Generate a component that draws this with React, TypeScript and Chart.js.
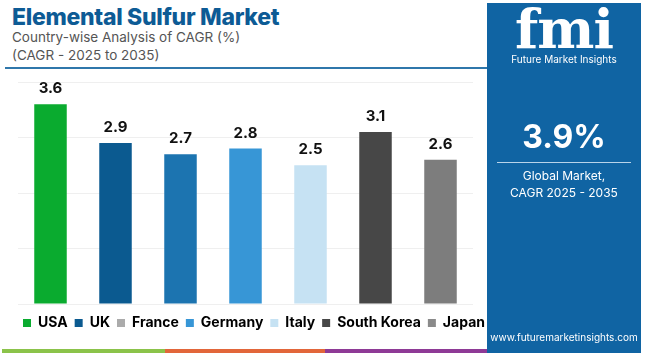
import React, { useEffect, useRef } from "react";
import { Chart, registerables } from "chart.js";

Chart.register(...registerables);

const categories = ["USA", "UK", "France", "Germany", "Italy", "South Korea", "Japan"];
const values = [3.6, 2.9, 2.7, 2.8, 2.5, 3.1, 2.6];
const barColors = ["#0aab2f", "#0b5a90", "#1c74b0", "#3796d6", "#c6e2f3", "#474747", "#7d7d7d"];
const legendColors = ["#0aab2f", "#0b5a90", "#ababab", "#3796d6", "#c6e2f3", "#474747", "#8a8a8a"];
const yTicks = [0, 1, 2, 3, 4];

const FONT = "Inter, 'Open Sans', sans-serif";

const valueLabels = {
  id: "valueLabels",
  afterDatasetsDraw(chart: any) {
    const ctx = chart.ctx;
    const meta = chart.getDatasetMeta(0);
    ctx.save();
    ctx.font = `700 15px ${FONT}`;
    ctx.fillStyle = "#111";
    ctx.textAlign = "center";
    ctx.textBaseline = "bottom";
    meta.data.forEach((bar: any, i: number) => {
      ctx.fillText(values[i].toFixed(1), bar.x, bar.y - 8);
    });
    ctx.restore();
  },
};

export default function App() {
  const ref = useRef<HTMLCanvasElement>(null);
  useEffect(() => {
    if (!ref.current) return;
    const chart = new Chart(ref.current, {
      type: "bar",
      data: {
        labels: categories,
        datasets: [
          {
            data: values,
            backgroundColor: barColors,
            barPercentage: 0.5,
            categoryPercentage: 1,
          },
        ],
      },
      options: {
        animation: false,
        responsive: false,
        maintainAspectRatio: false,
        layout: { padding: { left: 0, right: 0, top: 12, bottom: 0 } },
        scales: {
          x: {
            display: true,
            ticks: { display: false },
            grid: { display: false },
            border: { display: false },
            afterFit: (s: any) => {
              s.height = 5;
            },
          },
          y: {
            min: yTicks[0],
            max: yTicks[yTicks.length - 1],
            ticks: { display: false, stepSize: 1 },
            border: { display: false },
            grid: { color: "#efefef", drawTicks: false },
            afterFit: (s: any) => {
              s.width = 18;
            },
          },
          yRight: {
            position: "right",
            display: true,
            ticks: { display: false },
            grid: { display: false },
            border: { display: false },
            afterFit: (s: any) => {
              s.width = 35;
            },
          },
        },
        plugins: {
          tooltip: { enabled: false },
          legend: {
            display: true,
            position: "bottom",
            labels: {
              boxWidth: 8,
              boxHeight: 8,
              padding: 7,
              color: "#111",
              font: { family: FONT, size: 14, weight: "bold" },
              generateLabels: () =>
                categories.map((c, i) => ({
                  text: c,
                  fillStyle: legendColors[i],
                  strokeStyle: legendColors[i],
                  lineWidth: 0,
                  hidden: false,
                  index: i,
                  datasetIndex: 0,
                })),
            },
          },
        },
      },
      plugins: [valueLabels],
    });
    return () => chart.destroy();
  }, []);

  return (
    <div
      style={{
        position: "fixed",
        left: 0,
        top: 0,
        width: 650,
        height: 353,
        background: "#fff",
        overflow: "hidden",
        fontFamily: FONT,
      }}
    >
      <div style={{ position: "absolute", left: 12, top: 3, fontSize: 23, fontWeight: 800, color: "#0d5b95", letterSpacing: -0.3 }}>
        Elemental Sulfur Market
      </div>
      <div style={{ position: "absolute", left: 12, top: 28, fontSize: 13.5, color: "#555", lineHeight: "18px" }}>
        Country-wise Analysis of CAGR (%)
        <br />
        (CAGR - 2025 to 2035)
      </div>
      <div style={{ position: "absolute", left: 5, top: 67, width: 482, height: 2, background: "#2f77ab" }} />
      <canvas ref={ref} width={508} height={270} style={{ position: "absolute", left: 0, top: 70 }} />
      <div style={{ position: "absolute", left: 2, top: 349, width: 163, height: 4, background: "#8bc34a" }} />
      <div style={{ position: "absolute", left: 165, top: 349, width: 160, height: 4, background: "#e2663a" }} />
      <div style={{ position: "absolute", left: 325, top: 349, width: 163, height: 4, background: "#8e3a96" }} />
      <div
        style={{
          position: "absolute",
          left: 487,
          top: 3,
          width: 154,
          height: 350,
          background: "#1064a3",
          color: "#fff",
          textAlign: "center",
        }}
      >
        <div style={{ position: "absolute", left: 0, right: 0, top: -6, fontSize: 54, fontWeight: 900, fontFamily: "'DejaVu Serif', serif", letterSpacing: -1 }}>
          fmi
        </div>
        <div style={{ position: "absolute", left: 0, right: 0, top: 50, fontSize: 10 }}>Future Market Insights</div>
        <div style={{ position: "absolute", left: 0, right: 0, top: 114, fontSize: 32, fontWeight: 700 }}>3.9%</div>
        <div style={{ position: "absolute", left: 10, right: 10, top: 159, height: 1, background: "#b9d4ea" }} />
        <div style={{ position: "absolute", left: 0, right: 0, top: 164, fontSize: 12, lineHeight: "17px" }}>
          Global Market,
          <br />
          CAGR 2025 - 2035
        </div>
        <div style={{ position: "absolute", left: 0, right: 0, top: 328, fontSize: 10 }}>www.futuremarketinsights.com</div>
      </div>
    </div>
  );
}
